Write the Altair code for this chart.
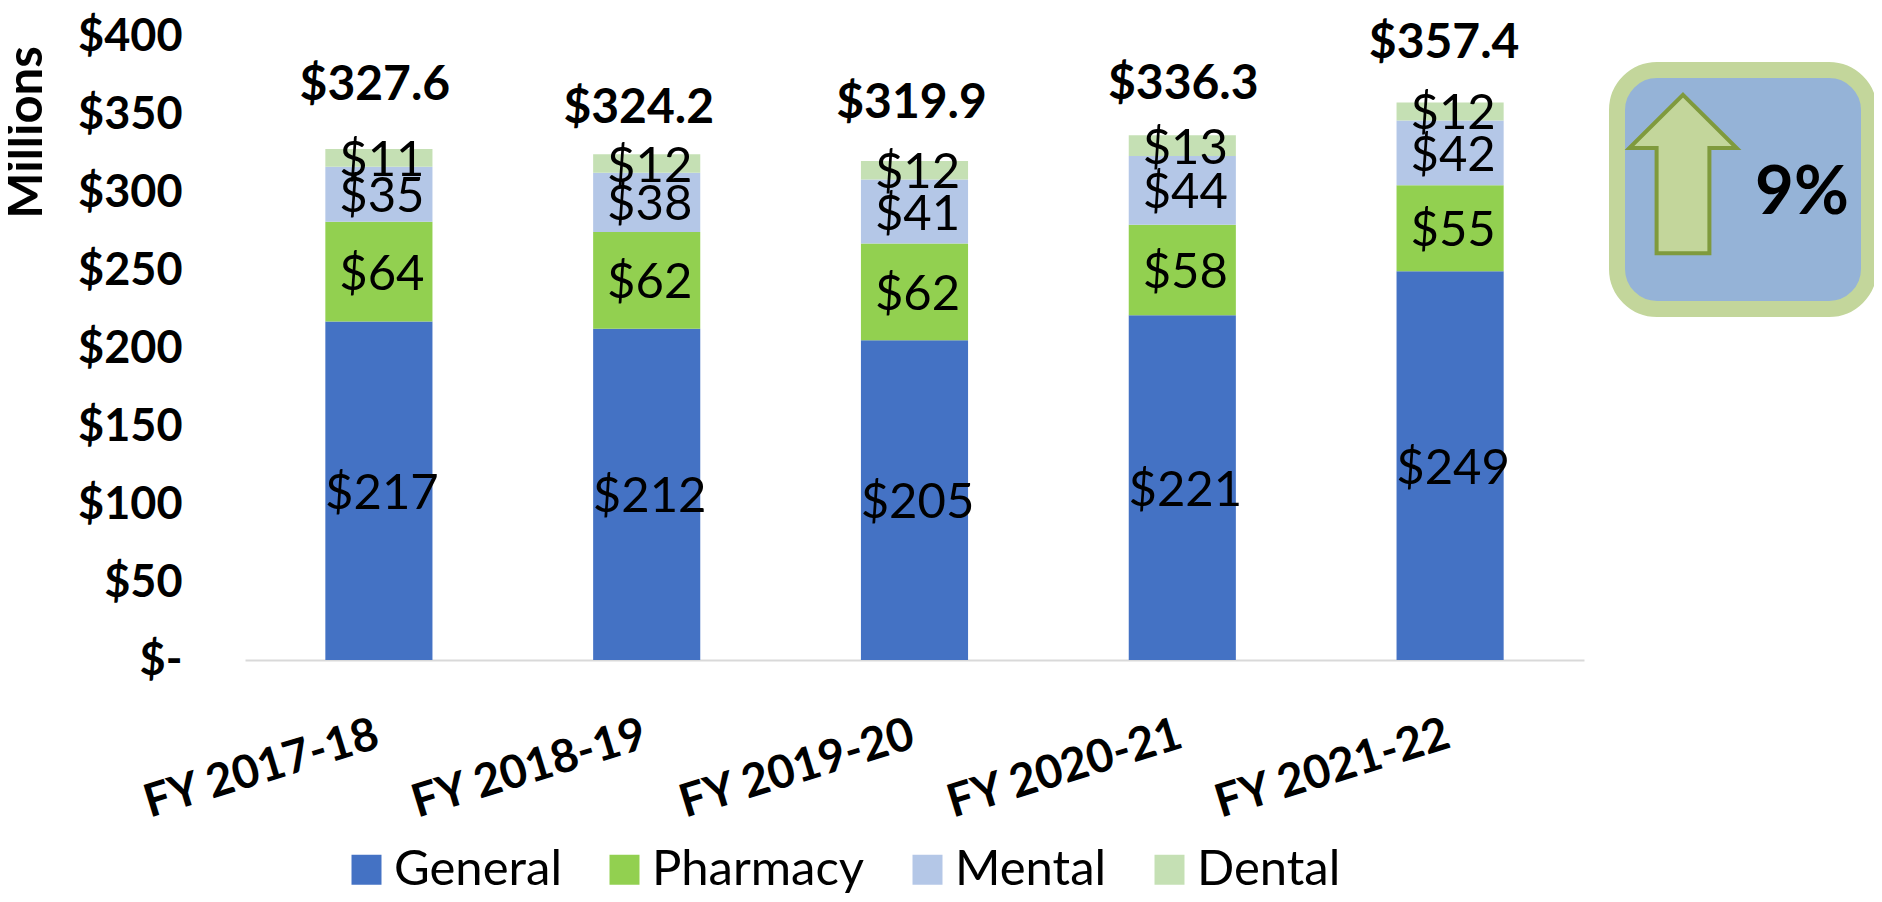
import altair as alt
import pandas as pd

years = ["FY 2017-18", "FY 2018-19", "FY 2019-20", "FY 2020-21", "FY 2021-22"]
general = [217.0, 212.3, 205.0, 221.0, 249.2]
pharmacy = [64.0, 62.0, 62.0, 58.0, 55.2]
mental = [35.2, 38.0, 41.0, 44.0, 41.5]
dental = [11.4, 11.9, 11.9, 13.3, 11.5]
totals = [327.6, 324.2, 319.9, 336.3, 357.4]
series = ["General", "Pharmacy", "Mental", "Dental"]
colors = ["#4472C4", "#92D050", "#B4C7E7", "#C5E0B4"]
change_label = "9%"

FONT = "Lato"
W, H = 1339, 624

rows = []
for name, vals in zip(series, [general, pharmacy, mental, dental]):
    for fy, v in zip(years, vals):
        rows.append({"fy": fy, "series": name, "value": v, "rank": series.index(name)})
df = pd.DataFrame(rows)
tot = pd.DataFrame({"fy": years, "total": totals})

xenc = alt.X("fy:N", sort=years, title=None,
             scale=alt.Scale(paddingInner=0.6, paddingOuter=0.3),
             axis=alt.Axis(labelAngle=343, labelFont=FONT, labelFontWeight="bold", labelFontSize=46,
                           labelColor="black", labelAlign="right", labelBaseline="top", labelPadding=52,
                           labelOffset=-8, labelLimit=500, labelBound=False, labelFlush=False,
                           ticks=False, domainColor="#D9D9D9", domainWidth=2, labelOverlap=False))
yscale = alt.Scale(domain=[0, 400], nice=False)

bars = alt.Chart(df).mark_bar().encode(
    x=xenc,
    y=alt.Y("value:Q", stack="zero", scale=yscale, title="Millions",
            axis=alt.Axis(values=[0, 50, 100, 150, 200, 250, 300, 350, 400], grid=False, ticks=False, domain=False,
                          labelFont=FONT, labelFontWeight="bold", labelFontSize=45, labelColor="black",
                          labelPadding=63, labelExpr="datum.value == 0 ? '$-' : '$' + datum.value",
                          titleFont=FONT, titleFontWeight="bold", titleFontSize=49, titleColor="black",
                          titleX=-219, titleY=96, titleAnchor="middle", titleBaseline="middle", titleAlign="center")),
    color=alt.Color("series:N", sort=series, scale=alt.Scale(domain=series, range=colors),
                    legend=alt.Legend(title=None, orient="none", direction="horizontal", columns=4,
                                      legendX=97, legendY=809, symbolType="square", symbolSize=900,
                                      symbolStrokeWidth=0, labelFont=FONT, labelFontSize=49, labelColor="black",
                                      columnPadding=38, labelOffset=3, labelLimit=500, symbolOpacity=1)),
    order=alt.Order("rank:Q"),
)

seg_labels = alt.Chart(df).transform_stack(
    stack="value", groupby=["fy"], sort=[alt.SortField("rank")], as_=["y0", "y1"]
).transform_calculate(mid="(datum.y0 + datum.y1) / 2", lab="'$' + format(datum.value, '.0f')").mark_text(
    font=FONT, fontSize=49, color="black", dx=3, dy=3
).encode(x=alt.X("fy:N", sort=years), y=alt.Y("mid:Q", scale=yscale), text="lab:N")

# Totals were hand placed in the source: each keeps its own nudge
nudges = [(-4, -63), (-8, -45), (-3, -57), (1, -50), (-6, -58)]
total_layers = []
for fy, (dx, dy) in zip(years, nudges):
    total_layers.append(
        alt.Chart(tot[tot.fy == fy]).transform_calculate(lab="'$' + format(datum.total, '.1f')").mark_text(
            font=FONT, fontWeight="bold", fontSize=48, color="black", dx=dx, dy=dy
        ).encode(x=alt.X("fy:N", sort=years), y=alt.Y("total:Q", scale=yscale), text="lab:N")
    )

badge = alt.Chart(tot.head(1)).mark_rect(
    fill="#95B3D7", stroke="#C3D69B", strokeWidth=16, cornerRadius=40, clip=False
).encode(x=alt.value(1372), x2=alt.value(1624), y=alt.value(34), y2=alt.value(273))

arrow_path = "M 0 -0.99 L 0.67 -0.325 L 0.33 -0.325 L 0.33 0.99 L -0.33 0.99 L -0.33 -0.325 L -0.67 -0.325 Z"
arrow = alt.Chart(tot.head(1)).mark_point(
    shape=arrow_path, filled=True, fill="#C3D69B", stroke="#7F9A3D", strokeWidth=4, opacity=1, size=25600
).encode(x=alt.value(1438), y=alt.value(138))

pct = alt.Chart(tot.head(1)).mark_text(
    font=FONT, fontWeight="bold", fontSize=67, color="black", text=change_label
).encode(x=alt.value(1557), y=alt.value(158))

chart = alt.layer(bars, seg_labels, *total_layers, badge, arrow, pct).properties(
    width=W, height=H,
    padding={"left": 237, "top": 28, "right": 290, "bottom": 234},
    autosize=alt.AutoSizeParams(type="none"),
    background="white",
).configure_view(stroke=None)

chart.save("out.html", embed_options={"renderer": "svg", "actions": False})
